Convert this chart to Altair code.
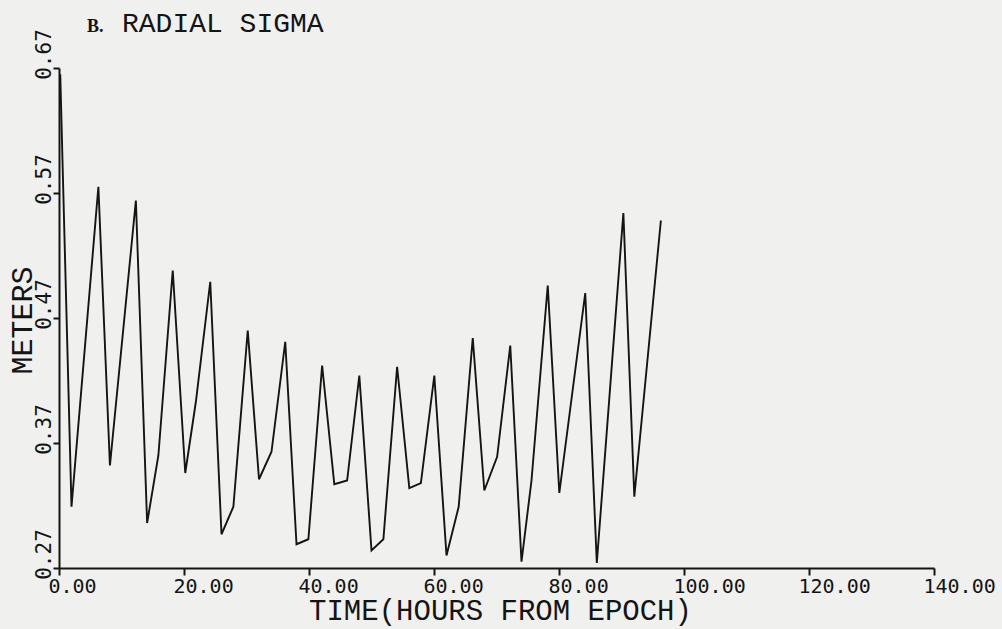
import altair as alt
import pandas as pd

# Values
hours = [0.2, 2.0, 6.3, 8.15, 12.3, 14.1, 15.9, 18.2, 20.2, 21.9,
         24.2, 26.0, 27.9, 30.2, 32.0, 34.0, 36.2, 38.0, 39.9, 42.1,
         44.05, 46.1, 48.05, 50.0, 51.9, 54.1, 56.05, 57.9, 60.05, 62.0,
         63.95, 66.2, 68.05, 70.1, 72.2, 74.0, 75.6, 78.2, 80.05, 84.2,
         86.05, 90.3, 92.05, 96.3]
sigma = [0.665, 0.319, 0.575, 0.352, 0.564, 0.306, 0.360, 0.508, 0.346, 0.403,
         0.499, 0.297, 0.319, 0.460, 0.341, 0.363, 0.451, 0.289, 0.293, 0.432,
         0.337, 0.340, 0.424, 0.284, 0.293, 0.431, 0.334, 0.338, 0.424, 0.280,
         0.319, 0.454, 0.332, 0.359, 0.448, 0.275, 0.340, 0.496, 0.330, 0.490,
         0.274, 0.554, 0.327, 0.548]

x_ticks = [0, 20, 40, 60, 80, 100, 120, 140]
y_ticks = [0.27, 0.37, 0.47, 0.57, 0.67]

title_prefix = "B."
title_main = "RADIAL SIGMA"
x_title = "TIME(HOURS FROM EPOCH)"
y_title = "METERS"

df = pd.DataFrame({"hours": hours, "sigma": sigma})

W, H = 875, 500
INK = "#141414"
TICK_FONT = "DejaVu Sans Mono"
TITLE_FONT = "Liberation Mono"

line = alt.Chart(df).mark_line(color=INK, strokeWidth=1.9).encode(
    x=alt.X(
        "hours:Q",
        scale=alt.Scale(domain=[0, 140], nice=False, zero=False),
        axis=alt.Axis(
            values=x_ticks, format=".2f", title=x_title,
            grid=False, domainColor=INK, domainWidth=2, tickColor=INK, tickWidth=2,
            tickSize=7, labelFont=TICK_FONT, labelFontSize=20, labelColor=INK,
            labelAlign="left", labelOffset=-11, labelBaseline="alphabetic", labelPadding=17,
            labelFlush=False, labelOverlap=False,
            titleFont=TITLE_FONT, titleFontSize=29, titleFontWeight="normal",
            titleColor=INK, titleX=441, titleY=51, titleAlign="center",
            titleBaseline="alphabetic",
        ),
    ),
    y=alt.Y(
        "sigma:Q",
        scale=alt.Scale(domain=[0.27, 0.67], nice=False, zero=False),
        axis=alt.Axis(
            values=y_ticks, format=".2f", title=y_title,
            grid=False, domainColor=INK, domainWidth=2, tickColor=INK, tickWidth=2,
            tickSize=6, labelFont=TICK_FONT, labelFontSize=21, labelColor=INK,
            labelAngle=270, labelAlign="center", labelBaseline="alphabetic",
            labelPadding=3, labelOffset=-14, labelFlush=False, labelOverlap=False,
            titleFont=TITLE_FONT, titleFontSize=30, titleFontWeight="normal",
            titleColor=INK, titleAngle=270, titleX=-28, titleY=252,
            titleAlign="center", titleBaseline="alphabetic",
        ),
    ),
)

label_df = pd.DataFrame({"t": [0]})
prefix = alt.Chart(label_df).mark_text(
    text=title_prefix, font="Liberation Serif", fontWeight="bold", fontSize=18,
    color=INK, align="left", baseline="alphabetic",
).encode(x=alt.value(28), y=alt.value(-36))

main_title = alt.Chart(label_df).mark_text(
    text=title_main, font=TITLE_FONT, fontSize=28, color=INK,
    align="left", baseline="alphabetic",
).encode(x=alt.value(63), y=alt.value(-36))

chart = alt.layer(line, prefix, main_title).properties(
    width=W, height=H,
    background="#f0f0ee",
    padding={"left": 59, "top": 68, "right": 68, "bottom": 61},
    autosize=alt.AutoSizeParams(type="none"),
).configure_view(stroke=None)

chart.save("out.html", embed_options={"renderer": "svg", "actions": False})
